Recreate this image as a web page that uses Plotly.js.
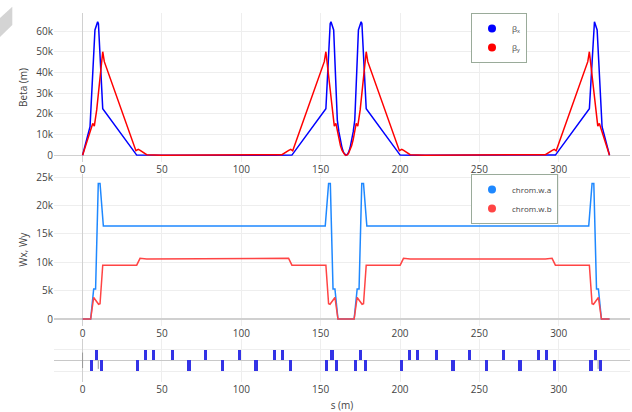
<!DOCTYPE html>
<html><head><meta charset="utf-8">
<script src="https://cdn.plot.ly/plotly-3.0.1.min.js"></script>
<style>html,body{margin:0;padding:0;background:#fff}#chart{width:632px;height:412px}</style>
</head><body><div id="chart"></div>
<script>
// ---- beta functions (m) ----
const sBetaX = [0, 4.7, 7.8, 9.5, 10.0, 12.7, 34.1, 45, 60, 83, 106, 121, 131.9, 153.3, 156.0, 156.5, 158.2, 160.5, 161.5, 162.5, 163.5, 164.5, 165.3, 166, 166.7, 167.5, 168.5, 169.5, 170.5, 171.5, 173.8, 175.5, 176.0, 178.7, 200.1, 211, 226, 249, 272, 287, 297.9, 319.3, 322.0, 322.5, 324.2, 327.3, 332];
const betaX  = [0, 13800, 60500, 64500, 63500, 22500, 100, 60, 40, 30, 40, 60, 100, 22500, 63500, 64500, 60500, 17000, 11300, 6900, 3500, 1260, 280, 0, 280, 1260, 3500, 6900, 11300, 17000, 60500, 64500, 63500, 22500, 100, 60, 40, 30, 40, 60, 100, 22500, 63500, 64500, 60500, 13800, 0];
const sBetaY = [0, 6.4, 7.4, 8.9, 12.7, 13.7, 33.6, 35.1, 36.3, 40.4, 50, 70, 83, 96, 116, 125.6, 129.9, 131.2, 132.4, 152.3, 153.3, 157.1, 158.6, 159.6, 160.5, 161.5, 162.5, 163.5, 164.5, 165.3, 166, 166.7, 167.5, 168.5, 169.5, 170.5, 171.5, 172.4, 173.4, 174.9, 178.7, 179.7, 199.6, 201.1, 202.3, 206.4, 216, 236, 249, 262, 282, 291.6, 295.9, 297.2, 298.4, 318.3, 319.3, 323.1, 324.6, 325.6, 332];
const betaY  = [0, 15400, 14100, 21900, 50000, 45200, 2200, 2900, 2400, 300, 80, 60, 50, 60, 80, 300, 2400, 2900, 2200, 45200, 50000, 21900, 14100, 15400, 11400, 7600, 4600, 2350, 850, 185, 0, 185, 850, 2350, 4600, 7600, 11400, 15400, 14100, 21900, 50000, 45200, 2200, 2900, 2400, 300, 80, 60, 50, 60, 80, 300, 2400, 2900, 2200, 45200, 50000, 21900, 14100, 15400, 0];

// ---- chromatic functions ----
const sWa = [0, 5.1, 7.0, 8.2, 9.9, 11.0, 13.1, 152.9, 155.0, 156.1, 157.8, 159.0, 160.9, 171.1, 173.0, 174.2, 175.9, 177.0, 179.1, 318.9, 321.0, 322.1, 323.8, 325.0, 326.9, 332];
const wA  = [0, 0, 5300, 5300, 23900, 23900, 16400, 16400, 23900, 23900, 5300, 5300, 0, 0, 5300, 5300, 23900, 23900, 16400, 16400, 23900, 23900, 5300, 5300, 0, 0];
const sWb = [0, 5.1, 7.0, 10.1, 11.0, 12.7, 34.1, 36.2, 40.4, 125.6, 129.8, 131.9, 153.3, 155.0, 155.9, 159.0, 160.9, 171.1, 173.0, 176.1, 177.0, 178.7, 200.1, 202.2, 206.4, 291.6, 295.8, 297.9, 319.3, 321.0, 321.9, 325.0, 326.9, 332];
const wB  = [0, 0, 3800, 2600, 2700, 9500, 9500, 10700, 10600, 10600, 10700, 9500, 9500, 2700, 2600, 3800, 0, 0, 3800, 2600, 2700, 9500, 9500, 10700, 10600, 10600, 10700, 9500, 9500, 2700, 2600, 3800, 0, 0];

// ---- lattice ----
const quadPos = [5.7, 8.6, 11.8, 34.7, 39.7, 44.8, 56.5, 67.0, 77.5, 88.0, 98.8, 109.3, 120.8, 126.1, 131.1, 153.8, 157.1, 159.9, 172.1, 175.2, 178.1, 200.8, 206.1, 211.1, 222.9, 233.4, 243.9, 254.4, 265.1, 275.6, 287.4, 292.4, 297.2, 320.3, 323.3, 326.5];
const quadK   = [-1, 1, -1, -1, 1, 1, 1, -1, 1, -1, 1, -1, 1, 1, -1, -1, 1, -1, -1, 1, -1, -1, 1, 1, 1, -1, 1, -1, 1, -1, 1, 1, -1, -1, 1, -1];
const markPos = [0, 9.9, 324.8];
const markTop = [0.72, 0, 0];
const markBot = [-0.72, -0.8, -0.8];

const xRange = [-18.0, 344.9];
const mx = [], my = [];
markPos.forEach((p, i) => { mx.push(p, p, null); my.push(markTop[i], markBot[i], null); });

const cBx = '#0000ff', cBy = '#ff0000', cWa = '#1e88ff', cWb = '#ff4444';

const traces = [
  {x: sBetaX, y: betaX, mode: 'lines', line: {color: cBx, width: 1.5}, xaxis: 'x', yaxis: 'y', showlegend: false, hoverinfo: 'skip'},
  {x: sBetaY, y: betaY, mode: 'lines', line: {color: cBy, width: 1.5}, xaxis: 'x', yaxis: 'y', showlegend: false, hoverinfo: 'skip'},
  {x: [null], y: [null], mode: 'markers', marker: {color: cBx, size: 8}, name: 'β<sub>x</sub>', xaxis: 'x', yaxis: 'y', legend: 'legend'},
  {x: [null], y: [null], mode: 'markers', marker: {color: cBy, size: 8}, name: 'β<sub>y</sub>', xaxis: 'x', yaxis: 'y', legend: 'legend'},
  {x: sWa, y: wA, mode: 'lines', line: {color: cWa, width: 1.5}, xaxis: 'x2', yaxis: 'y2', showlegend: false, hoverinfo: 'skip'},
  {x: sWb, y: wB, mode: 'lines', line: {color: cWb, width: 1.5}, xaxis: 'x2', yaxis: 'y2', showlegend: false, hoverinfo: 'skip'},
  {x: [null], y: [null], mode: 'markers', marker: {color: cWa, size: 8}, name: 'chrom.w.a', xaxis: 'x2', yaxis: 'y2', legend: 'legend2'},
  {x: [null], y: [null], mode: 'markers', marker: {color: cWb, size: 8}, name: 'chrom.w.b', xaxis: 'x2', yaxis: 'y2', legend: 'legend2'},
  {type: 'bar', x: quadPos, y: quadK, width: 2, marker: {color: '#3333e6', line: {width: 0}}, xaxis: 'x3', yaxis: 'y3', showlegend: false, hoverinfo: 'skip'},
  {x: mx, y: my, mode: 'lines', line: {color: '#999', width: 1}, xaxis: 'x3', yaxis: 'y3', showlegend: false, hoverinfo: 'skip', connectgaps: false}
];

const H = 412, L = 54, R = 2, PW = 632 - L - R;
const py = p => 1 - p / H;
const px = p => (p - L) / PW;

const gx = {range: xRange, showgrid: true, gridcolor: '#eeeeee', zeroline: true, zerolinecolor: '#d0d0d0', zerolinewidth: 1.5, showline: false, ticks: '', tickfont: {size: 10, color: '#444'}, dtick: 50};
const layout = {
  width: 632, height: 412,
  margin: {l: L, r: R, t: 0, b: 0},
  font: {family: '"Open Sans", verdana, arial, sans-serif', size: 10, color: '#444'},
  paper_bgcolor: '#fff', plot_bgcolor: '#fff',
  xaxis: Object.assign({}, gx, {anchor: 'y'}),
  xaxis2: Object.assign({}, gx, {anchor: 'y2'}),
  xaxis3: Object.assign({}, gx, {anchor: 'y3', title: {text: 's (m)', font: {size: 10}}}),
  yaxis: {domain: [py(162), py(13)], range: [-3234, 68690], gridcolor: '#eeeeee', zeroline: true, zerolinecolor: '#d0d0d0', zerolinewidth: 1.5, tickfont: {size: 10}, title: {text: 'Beta (m)', font: {size: 10}, standoff: 6}, dtick: 10000},
  yaxis2: {domain: [py(325.5), py(174)], range: [-1147, 25582], gridcolor: '#eeeeee', zeroline: true, zerolinecolor: '#d0d0d0', zerolinewidth: 1.5, tickfont: {size: 10}, title: {text: 'Wx, Wy', font: {size: 10}, standoff: 6}, dtick: 5000},
  yaxis3: {domain: [py(381.8), py(338.8)], range: [-2, 2], tickvals: [-1, 0, 1], showticklabels: false, gridcolor: '#eeeeee', zeroline: true, zerolinecolor: '#c8c8c8', zerolinewidth: 1},
  legend: {x: px(471), y: py(13), xanchor: 'left', yanchor: 'top', bgcolor: '#fff', bordercolor: '#9aab9a', borderwidth: 1, font: {size: 8, color: '#444'}},
  legend2: {x: px(471), y: py(174), xanchor: 'left', yanchor: 'top', bgcolor: '#fff', bordercolor: '#9aab9a', borderwidth: 1, font: {size: 8, color: '#444'}},
  shapes: [{type: 'path', xref: 'paper', yref: 'paper', layer: 'above',
    path: `M ${px(0)} ${py(18)} L ${px(12.3)} ${py(6.7)} L ${px(12.3)} ${py(25)} L ${px(0)} ${py(37)} Z`,
    fillcolor: '#d4d4d4', line: {width: 0}}],
  bargap: 0, showlegend: true
};

Plotly.newPlot('chart', traces, layout, {displayModeBar: false, staticPlot: true});
</script>
</body></html>
